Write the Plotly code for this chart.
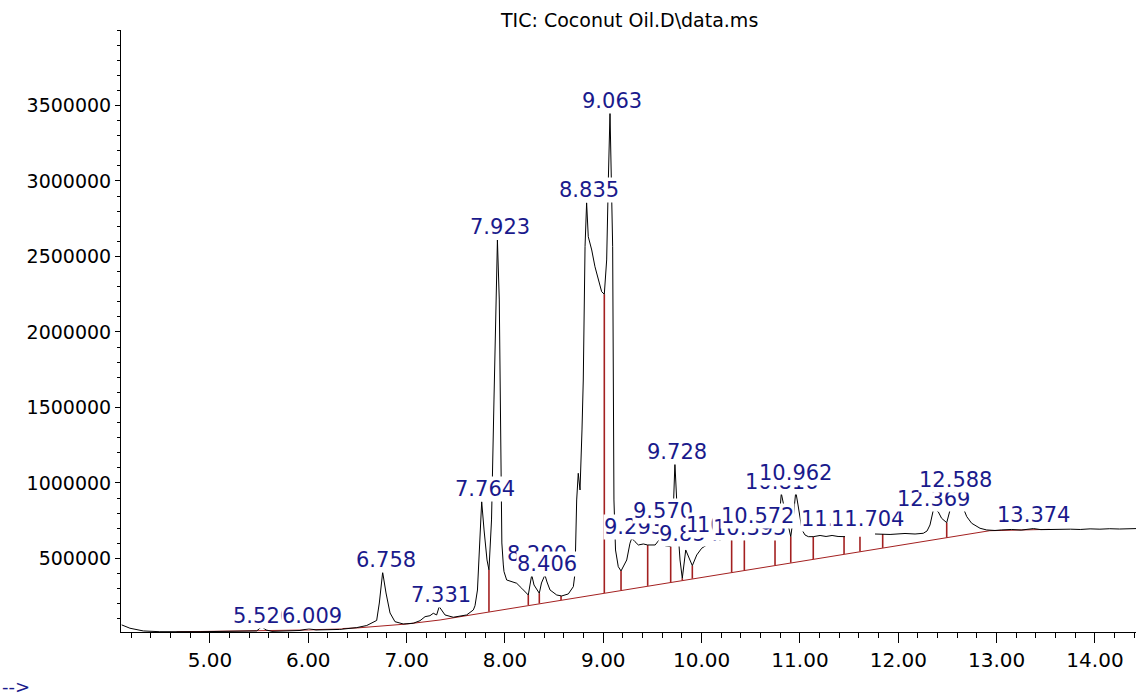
import plotly.graph_objects as go

# ---------------- data (retention time in min, abundance) ----------------
time = [4.102, 4.186, 4.322, 4.49, 4.90, 5.305, 5.475, 5.526, 5.57, 5.63,
        5.915, 6.007, 6.078, 6.32, 6.492, 6.594, 6.661, 6.695, 6.722, 6.756,
        6.79, 6.831, 6.881, 6.966, 7.068, 7.136, 7.187, 7.237, 7.271, 7.305,
        7.331, 7.356, 7.39, 7.474, 7.61, 7.678, 7.695, 7.72, 7.741, 7.763,
        7.787, 7.817, 7.837, 7.863, 7.888, 7.909, 7.923, 7.942, 7.954, 7.965,
        7.968, 7.983, 7.99, 8.017, 8.068, 8.119, 8.17, 8.214, 8.237, 8.254,
        8.272, 8.295, 8.326, 8.349, 8.371, 8.406, 8.427, 8.458, 8.526, 8.577,
        8.644, 8.695, 8.712, 8.729, 8.745, 8.763, 8.783, 8.796, 8.814, 8.83,
        8.847, 8.882, 8.915, 8.949, 8.983, 9.01, 9.034, 9.051, 9.068, 9.095,
        9.101, 9.108, 9.124, 9.152, 9.18, 9.238, 9.271, 9.289, 9.322, 9.356,
        9.407, 9.451, 9.527, 9.567, 9.634, 9.685, 9.708, 9.728, 9.746, 9.759,
        9.78, 9.803, 9.838, 9.861, 9.881, 9.905, 9.95, 10.0, 10.085, 10.187,
        10.255, 10.305, 10.356, 10.39, 10.434, 10.492, 10.573, 10.662, 10.712, 10.746,
        10.78, 10.81, 10.83, 10.858, 10.881, 10.906, 10.929, 10.957, 10.98, 10.993,
        11.021, 11.051, 11.085, 11.135, 11.204, 11.265, 11.326, 11.387, 11.458, None,
        11.763, 11.916, 12.068, 12.17, 12.254, 12.292, 12.322, 12.356, 12.37, 12.407,
        12.44, 12.492, 12.526, 12.557, 12.597, 12.627, 12.661, 12.696, 12.746, 12.831,
        12.899, 12.983, 13.05, 13.15, 13.25, 13.35, 13.374, 13.45, 13.55, 13.65,
        13.75, 13.85, 13.95, 14.05, 14.15, 14.25, 14.35, 14.42]
abundance = [60000, 38000, 20000, 15000, 15000, 16500, 20000, 48000, 26500, 17000,
             23000, 35000, 26500, 30000, 42000, 56000, 79500, 89400, 205000, 408600,
             271500, 139000, 81500, 66000, 71000, 88000, 114600, 121000, 137000, 126000,
             181000, 159000, 126000, 110600, 126000, 159000, 187000, 291000, 622500, 876000,
             688700, 490000, 424000, 755000, 1549600, 2212000, 2609000, 2212000, 1549600, 1020000,
             602600, 457000, 412600, 357600, 346000, 335700, 302600, 269500, 258000, 324500,
             390700, 324500, 291400, 269500, 337700, 390700, 344400, 291400, 258000, 251700,
             265000, 313200, 402000, 887400, 1064000, 953600, 1351000, 1682000, 2565000, 2856000,
             2631000, 2543000, 2432000, 2344000, 2267000, 2250000, 2477000, 3007000, 3452000, 2565000,
             1682000, 887400, 556300, 445700, 417200, 490000, 600700, 633800, 611200, 589400,
             596000, 589400, 589400, 622500, 582800, 578000, 755000, 1130000, 887400, 688700,
             490000, 369000, 556300, 523200, 490000, 452300, 523200, 567500, 602600, 622500,
             644400, 622500, 644400, 642400, 622500, 644400, 655600, 655600, 633800, 633800,
             688700, 931800, 867500, 788000, 710600, 644400, 755000, 942400, 854300, 799300,
             688700, 655600, 644400, 644400, 652300, 645700, 652300, 645700, 644400, None,
             662000, 659000, 665500, 662000, 666900, 682100, 721800, 821200, 828000, 808000,
             766200, 737100, 821200, 907300, 940400, 907300, 832500, 776800, 733100, 700000,
             688700, 685400, 689000, 692000, 688000, 695000, 698000, 691000, 693000, 690000,
             694000, 692000, 696000, 694000, 697000, 695000, 699000, 698000]

# integration baseline
baseline_time = [4.66, 5.5, 6.0, 6.5, 7.0, 7.34, 12.93, 13.54]
baseline_abund = [14000, 20000, 26500, 40000, 66000, 92700, 684000, 693000]

# peak boundary drop lines
drop_time = [7.837, 8.237, 8.349, 8.57, 9.01, 9.18, 9.451, 9.685, 9.803, 9.905,
             10.305, 10.434, 10.746, 10.906, 11.135, 11.448, 11.61, 11.841, 12.492]
drop_top = [424000, 258000, 269500, 251700, 2250000, 417000, 589000, 578000, 369000, 452000,
            622500, 622500, 633800, 644000, 644000, 644000, 644000, 662000, 737000]
drop_bottom = [147700, 192000, 202000, 225000, 271500, 289000, 318500, 343000, 356000, 366000,
               408600, 422500, 455000, 471500, 496000, 529000, 545700, 570200, 638400]

# peak labels (text, x, y, anchor) - drawn in this order, later ones on top
label_text = ["5.526", "6.009", "6.758", "7.331", "7.764", "7.923", "8.290", "8.406",
              "8.835", "9.063", "9.293", "9.570", "9.728", "9.854", "10.052", "10.148",
              "10.395", "10.572", "10.816", "10.962", "11.290", "11.704", "12.369", "12.588",
              "13.374"]
label_x = [5.221, 6.034, 6.788, 7.347, 7.794, 7.949, 8.322, 8.424,
           8.859, 9.088, 9.0, 9.602, 9.754, 9.871, 9.83, 9.94,
           10.482, 10.568, 10.814, 10.957, 11.0, 11.687, 12.356, 12.585,
           13.373]
label_y = [121000, 121000, 490000, 255000, 961600, 2695000, 528000, 465600,
           2938000, 3532000, 710600, 813000, 1207000, 659000, 722000, 722000,
           700000, 781000, 1008600, 1064000, 761600, 761600, 895400, 1020000,
           784800]
label_anchor = ["left", "center", "center", "center", "center", "center", "center", "center",
                "center", "center", "left", "center", "center", "center", "left", "left",
                "center", "center", "center", "center", "left", "center", "center", "center",
                "center"]

x_tickvals = [5, 6, 7, 8, 9, 10, 11, 12, 13, 14]
x_ticktext = ["5.00", "6.00", "7.00", "8.00", "9.00", "10.00", "11.00", "12.00", "13.00", "14.00"]
y_tickvals = [500000, 1000000, 1500000, 2000000, 2500000, 3000000, 3500000]
y_ticktext = ["500000", "1000000", "1500000", "2000000", "2500000", "3000000", "3500000"]

title_text = "TIC: Coconut Oil.D\\data.ms"
footer_text = "--&gt;"

# ---------------- figure ----------------
RED = "#a32020"
NAVY = "#1a1a8c"
FONT = "DejaVu Sans"

fig = go.Figure()

fig.add_trace(go.Scatter(x=baseline_time, y=baseline_abund, mode="lines",
                         line=dict(color=RED, width=1), hoverinfo="skip"))

dx, dy = [], []
for t, top, bot in zip(drop_time, drop_top, drop_bottom):
    dx += [t, t, None]
    dy += [top, bot, None]
fig.add_trace(go.Scatter(x=dx, y=dy, mode="lines", line=dict(color=RED, width=1.6),
                         hoverinfo="skip", connectgaps=False))

fig.add_trace(go.Scatter(x=time, y=abundance, mode="lines",
                         line=dict(color="black", width=1), connectgaps=False,
                         hoverinfo="skip"))

for txt, x, y, anc in zip(label_text, label_x, label_y, label_anchor):
    fig.add_annotation(x=x, y=y, xref="x", yref="y", text=txt, showarrow=False,
                       xanchor=anc, yanchor="middle", bgcolor="white", borderpad=0,
                       font=dict(family=FONT, size=21, color=NAVY))

fig.add_annotation(x=0.5, y=1.0, xref="paper", yref="paper", text=title_text,
                   showarrow=False, xanchor="center", yanchor="middle", yshift=10,
                   font=dict(family=FONT, size=19, color="black"))

fig.add_annotation(x=-121 / 1015, y=-54 / 602, xref="paper", yref="paper",
                   text=footer_text, showarrow=False, xanchor="left", yanchor="middle",
                   font=dict(family=FONT, size=18, color=NAVY))

fig.update_layout(
    width=1136, height=696,
    margin=dict(l=121, r=0, t=30, b=64, autoexpand=False),
    paper_bgcolor="white", plot_bgcolor="white",
    showlegend=False,
    font=dict(family=FONT, color="black"),
    xaxis=dict(range=[4.095, 14.417], showline=True, linecolor="black", linewidth=1,
               ticks="outside", ticklen=10, tickcolor="black", tickwidth=1,
               tickmode="array", tickvals=x_tickvals, ticktext=x_ticktext,
               minor=dict(dtick=0.2, tick0=0, ticks="outside", ticklen=5,
                          tickcolor="black", showgrid=False),
               showgrid=False, zeroline=False,
               tickfont=dict(family=FONT, size=20, color="black")),
    yaxis=dict(range=[13000, 4000000], showline=True, linecolor="black", linewidth=1,
               ticks="outside", ticklen=5, tickcolor="black", tickwidth=1,
               tickmode="array", tickvals=y_tickvals, ticktext=y_ticktext,
               minor=dict(dtick=100000, tick0=0, ticks="outside", ticklen=3,
                          tickcolor="black", showgrid=False),
               showgrid=False, zeroline=False,
               tickfont=dict(family=FONT, size=19, color="black")),
)

fig.write_html("out.html", config={"displayModeBar": False},
               post_script="document.body.style.margin='0';document.body.style.overflow='hidden';")
